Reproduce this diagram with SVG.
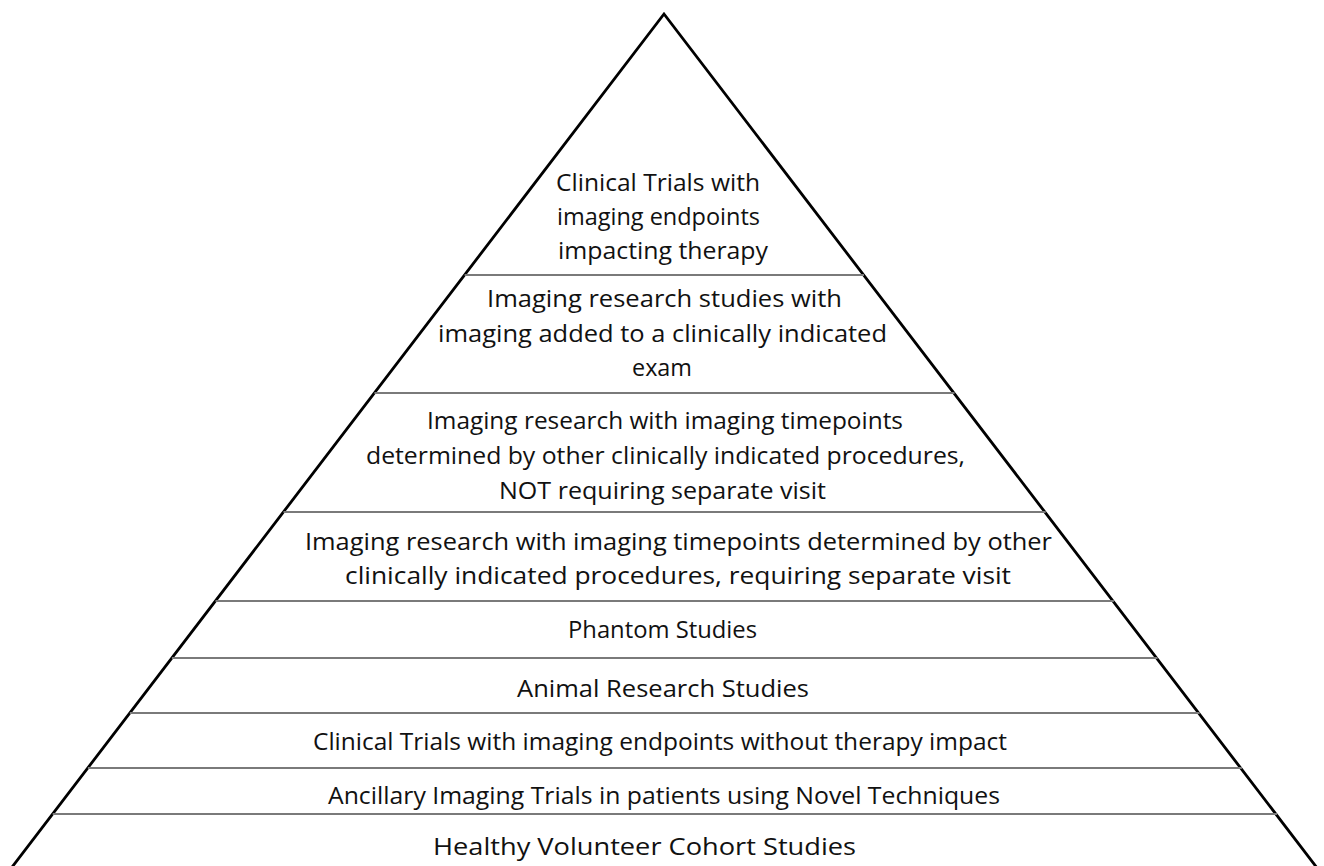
<svg xmlns="http://www.w3.org/2000/svg" width="1324" height="866" viewBox="0 0 1324 866">
<style>
.sep{stroke:#7a7a7a;stroke-width:2;fill:none}
.edge{stroke:#000;stroke-width:2.8;fill:none;stroke-linejoin:miter}
text{font-family:"Open Sans","Noto Sans","Liberation Sans",sans-serif;font-size:24.5px;fill:#111;text-anchor:middle}
</style>
<rect width="1324" height="866" fill="#fff"/>
<g id="connectors">
<polyline class="edge" points="6,875 664,14 1324,877"/>
<line class="sep" x1="464.6" y1="275" x2="864" y2="275"/>
<line class="sep" x1="374.4" y1="393" x2="954.5" y2="393"/>
<line class="sep" x1="283.5" y1="512" x2="1045.7" y2="512"/>
<line class="sep" x1="215.5" y1="601" x2="1113.9" y2="601"/>
<line class="sep" x1="171.9" y1="658" x2="1157.6" y2="658"/>
<line class="sep" x1="129.9" y1="713" x2="1199.7" y2="713"/>
<line class="sep" x1="87.9" y1="768" x2="1241.9" y2="768"/>
<line class="sep" x1="52.7" y1="814" x2="1277.1" y2="814"/>
</g>
<g id="tier1">
<text x="658" y="191" textLength="204" lengthAdjust="spacingAndGlyphs">Clinical Trials with</text>
<text x="658.5" y="225" textLength="203" lengthAdjust="spacingAndGlyphs">imaging endpoints</text>
<text x="663" y="259" textLength="210" lengthAdjust="spacingAndGlyphs">impacting therapy</text>
</g>
<g id="tier2">
<text x="664.5" y="307" textLength="355" lengthAdjust="spacingAndGlyphs">Imaging research studies with</text>
<text x="662.5" y="342" textLength="449" lengthAdjust="spacingAndGlyphs">imaging added to a clinically indicated</text>
<text x="662" y="376" textLength="60" lengthAdjust="spacingAndGlyphs">exam</text>
</g>
<g id="tier3">
<text x="665" y="429" textLength="476" lengthAdjust="spacingAndGlyphs">Imaging research with imaging timepoints</text>
<text x="665.5" y="464" textLength="599" lengthAdjust="spacingAndGlyphs">determined by other clinically indicated procedures,</text>
<text x="662.5" y="499" textLength="327" lengthAdjust="spacingAndGlyphs">NOT requiring separate visit</text>
</g>
<g id="tier4">
<text x="678.5" y="550" textLength="747" lengthAdjust="spacingAndGlyphs">Imaging research with imaging timepoints determined by other</text>
<text x="678" y="584" textLength="666" lengthAdjust="spacingAndGlyphs">clinically indicated procedures, requiring separate visit</text>
</g>
<g id="tier5">
<text x="662.5" y="638" textLength="189" lengthAdjust="spacingAndGlyphs">Phantom Studies</text>
</g>
<g id="tier6">
<text x="663" y="697" textLength="292" lengthAdjust="spacingAndGlyphs">Animal Research Studies</text>
</g>
<g id="tier7">
<text x="660" y="750" textLength="694" lengthAdjust="spacingAndGlyphs">Clinical Trials with imaging endpoints without therapy impact</text>
</g>
<g id="tier8">
<text x="664" y="804" textLength="672" lengthAdjust="spacingAndGlyphs">Ancillary Imaging Trials in patients using Novel Techniques</text>
</g>
<g id="tier9">
<text x="644.5" y="855" textLength="423" lengthAdjust="spacingAndGlyphs">Healthy Volunteer Cohort Studies</text>
</g>
</svg>
